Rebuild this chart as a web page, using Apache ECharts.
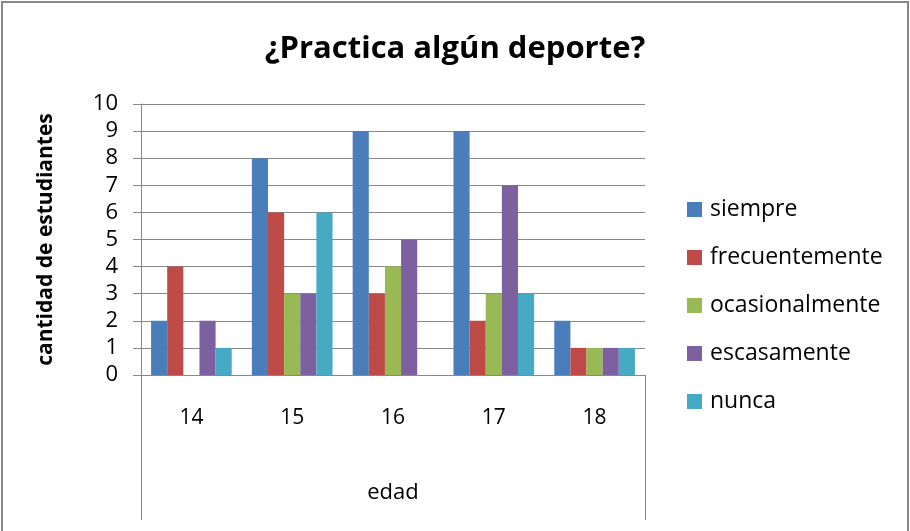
<!DOCTYPE html>
<html><head><meta charset="utf-8">
<script src="https://cdn.jsdelivr.net/npm/echarts@6/dist/echarts.min.js"></script>
<style>html,body{margin:0;padding:0;background:#fff}#c{width:910px;height:531px}</style>
</head><body><div id="c"></div>
<script>
const categories = ['14', '15', '16', '17', '18'];
const seriesNames = ['siempre', 'frecuentemente', 'ocasionalmente', 'escasamente', 'nunca'];
const siempre = [2, 8, 9, 9, 2];
const frecuentemente = [4, 6, 3, 2, 1];
const ocasionalmente = [0, 3, 4, 3, 1];
const escasamente = [2, 3, 5, 7, 1];
const nunca = [1, 6, 0, 3, 1];
const yTicks = [0, 1, 2, 3, 4, 5, 6, 7, 8, 9, 10];
const colors = ['#4a7ebb', '#be4b48', '#98b954', '#7d60a0', '#46aac5'];
const values = [siempre, frecuentemente, ocasionalmente, escasamente, nunca];
const font = 'Open Sans';

const chart = echarts.init(document.getElementById('c'));
chart.setOption({
  animation: false,
  color: colors,
  title: {
    text: '¿Practica algún deporte?', left: 'center', top: 29,
    textStyle: { fontFamily: font, fontSize: 31, fontWeight: 'bold', color: '#000' }
  },
  graphic: [{ type: 'rect', shape: { x: 2, y: 2, width: 906, height: 540 }, style: { fill: 'none', stroke: '#888', lineWidth: 2 } }],
  legend: {
    orient: 'vertical', left: 682, top: 193, itemGap: 25, itemWidth: 15, itemHeight: 15,
    icon: 'rect',
    textStyle: { fontFamily: font, fontSize: 23, color: '#000', padding: [0, 0, 0, 3] },
    data: seriesNames
  },
  grid: { left: 141, right: 265, top: 104, bottom: 156 },
  xAxis: [{
    type: 'category', data: categories,
    name: 'edad', nameLocation: 'middle', nameGap: 107,
    nameTextStyle: { fontFamily: font, fontSize: 22, color: '#000' },
    axisLine: { lineStyle: { color: '#888', width: 1 } },
    axisTick: { show: false },
    axisLabel: { fontFamily: font, fontSize: 21, color: '#000', margin: 33 }
  }, {
    type: 'category', data: [''], position: 'bottom',
    axisLine: { show: false },
    axisTick: { show: true, length: 145, lineStyle: { color: '#888' } },
    axisLabel: { show: false }
  }],
  yAxis: {
    type: 'value', min: 0, max: 10, interval: 1,
    name: 'cantidad de estudiantes', nameLocation: 'middle', nameGap: 84,
    nameTextStyle: { fontFamily: font, fontSize: 21, fontWeight: 'bold', color: '#000' },
    axisLine: { show: true, lineStyle: { color: '#888' } },
    axisTick: { show: true, length: 8, lineStyle: { color: '#888' } },
    axisLabel: { fontFamily: font, fontSize: 22, color: '#000', margin: 23,
      formatter: v => yTicks.includes(v) ? String(v) : '' },
    splitLine: { lineStyle: { color: '#888', width: 1 } }
  },
  series: seriesNames.map((n, i) => ({
    name: n, type: 'bar', data: values[i], barGap: '0%', barCategoryGap: '20%', xAxisIndex: 0
  }))
});
</script></body></html>
